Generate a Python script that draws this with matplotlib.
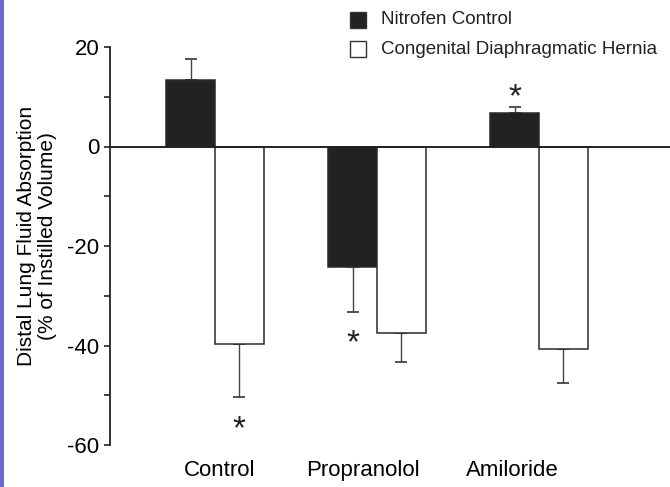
import matplotlib
matplotlib.use("Agg")
import matplotlib.pyplot as plt
import numpy as np
from matplotlib.patches import Rectangle

plt.rcParams['font.family'] = ['Liberation Sans', 'DejaVu Sans']

categories = ["Control", "Propranolol", "Amiloride"]
series_names = ["Nitrofen Control", "Congenital Diaphragmatic Hernia"]
nitrofen = [13.4, -24.3, 6.7]
nitrofen_err = [4.2, 9.0, 1.3]
cdh = [-39.6, -37.5, -40.7]
cdh_err = [10.7, 5.9, 6.8]
# significance marks (y value of the asterisk centre, None = no mark)
star_y_nitrofen = [None, -38.7, 10.8]
star_y_cdh = [-56.0, None, None]
yticks = [20, 0, -20, -40, -60]

W, H = 670, 487
fig = plt.figure(figsize=(W/100, H/100), dpi=100)
ax = fig.add_axes([110/W, 1-445/H, 560/W, (445-47)/H])

x = np.arange(len(categories))
w = 0.30
edge = '#2a2a2a'
ax.bar(x - w/2, nitrofen, w, color='#222222', edgecolor=edge, linewidth=1.1, zorder=2)
ax.bar(x + w/2, cdh, w, color='white', edgecolor=edge, linewidth=1.1, zorder=2)

def one_sided(xs, vals, errs):
    for xi, v, e in zip(xs, vals, errs):
        lo = [0] if v >= 0 else [e]
        hi = [e] if v >= 0 else [0]
        ax.errorbar([xi], [v], yerr=[lo, hi], fmt='none', ecolor='#444444',
                    elinewidth=1.0, capsize=4.3, capthick=1.3, zorder=1)

one_sided(x - w/2, nitrofen, nitrofen_err)
one_sided(x + w/2, cdh, cdh_err)

star_fs = 24
def stars(xs, ys):
    for xi, sy in zip(xs, ys):
        if sy is not None:
            ax.annotate('*', (xi, sy), xytext=(0, -0.40*star_fs), textcoords='offset points',
                        ha='center', va='baseline', fontsize=star_fs, color='#222222')

stars(x - w/2, star_y_nitrofen)
stars(x + w/2, star_y_cdh)

ax.axhline(0, color='#222222', linewidth=1.4, zorder=3)

ax.set_ylim(-60, 20)
ax.set_xlim(-0.648, 2.809)
ax.set_yticks(yticks)
ax.set_yticks([10, -10, -30, -50], minor=True)
ax.set_yticklabels([str(t) for t in yticks], fontsize=16)
ax.tick_params(axis='y', which='both', direction='out', length=4.5, width=1.2,
               color='#222222', pad=3)
ax.set_xticks(x + np.array([0.03, -0.086, -0.167]))
ax.set_xticklabels(categories, fontsize=16)
ax.tick_params(axis='x', length=0, pad=11)
for s in ['top', 'right', 'bottom']:
    ax.spines[s].set_visible(False)
ax.spines['left'].set_linewidth(1.3)
ax.spines['left'].set_color('#222222')

fig.text(37/W, 1-236/H, "Distal Lung Fluid Absorption\n(% of Instilled Volume)",
         rotation=90, ha='center', va='center', fontsize=15, linespacing=1.15,
         multialignment='center')

# legend (drawn manually)
sq_faces = ['#222222', 'white']
rows_y = [20, 49]
for fc, yc, name in zip(sq_faces, rows_y, series_names):
    fig.patches.append(Rectangle((350/W, 1-(yc+8)/H), 16/W, 16/H, transform=fig.transFigure,
                                 facecolor=fc, edgecolor='#333333', linewidth=1.0))
    fig.text(381/W, 1-yc/H, name, ha='left', va='center', fontsize=13.5, color='#222222')

# left decorative strip
fig.patches.append(Rectangle((0, 0), 4/W, 1, transform=fig.transFigure,
                             facecolor='#6B6BCC', edgecolor='none'))

fig.savefig('out.png', dpi=100)
